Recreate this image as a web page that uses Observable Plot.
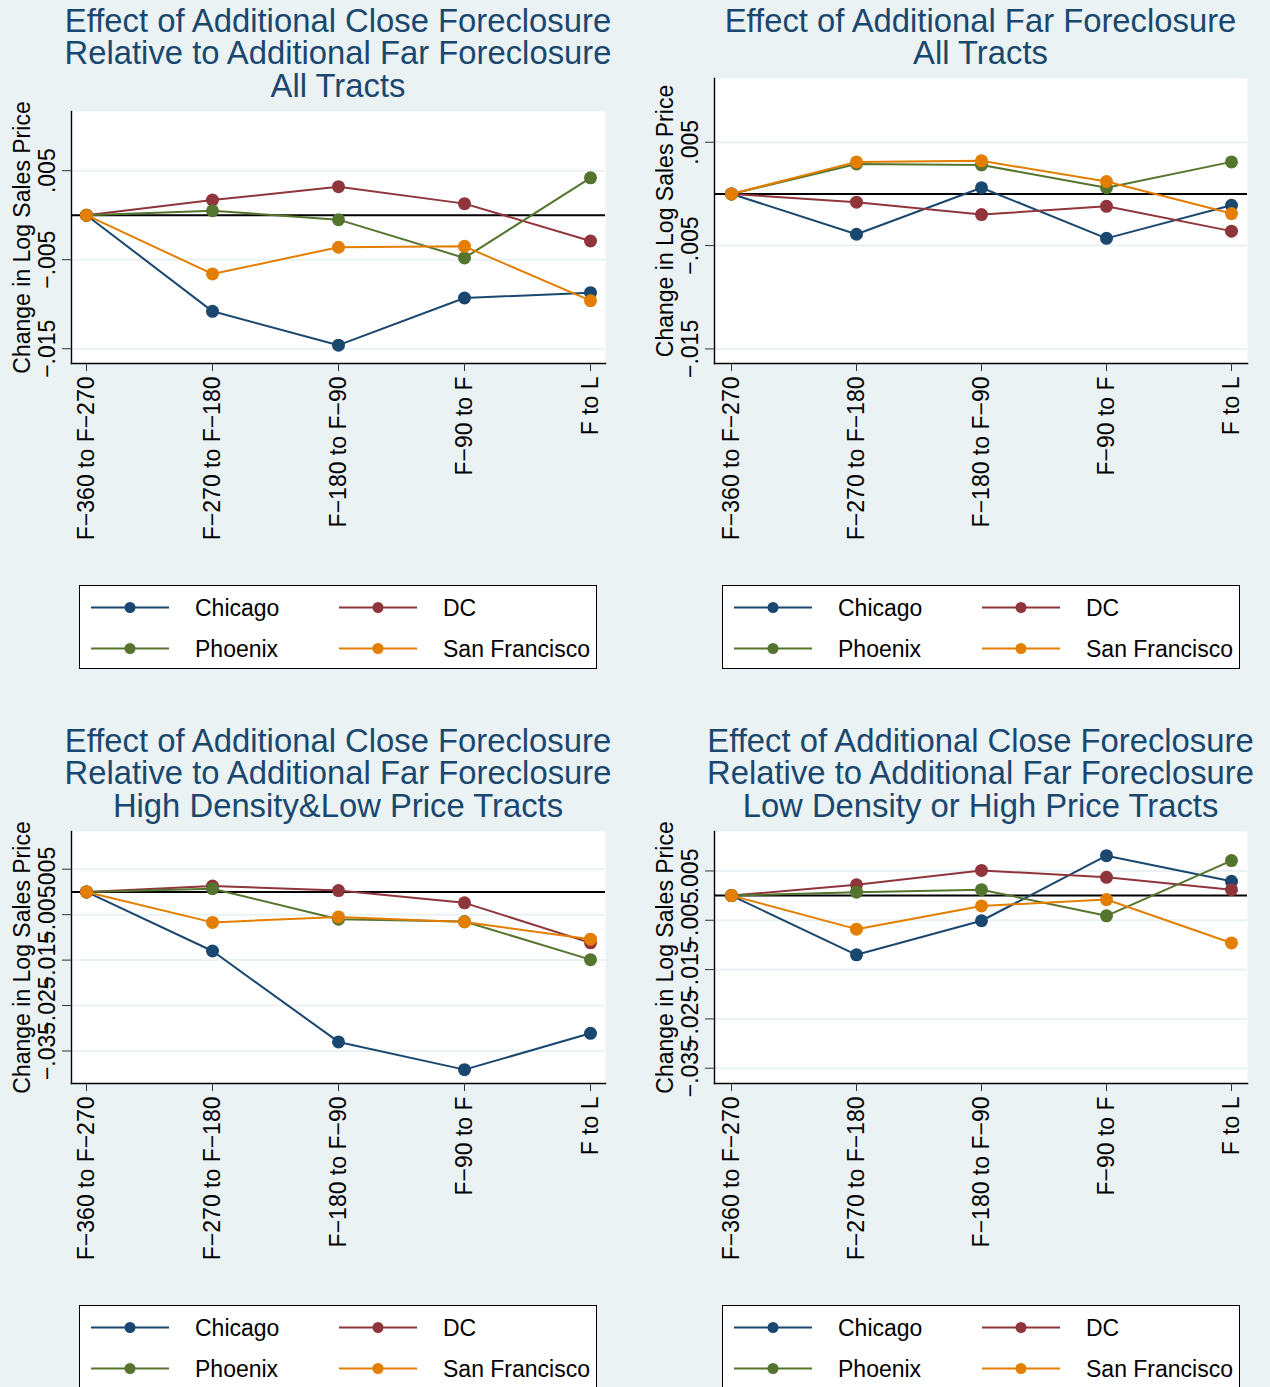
<!DOCTYPE html>
<html>
<head>
<meta charset="utf-8">
<script src="https://cdn.jsdelivr.net/npm/d3@7"></script>
<script src="https://cdn.jsdelivr.net/npm/@observablehq/plot@0.6"></script>
<style>
  html, body { margin: 0; padding: 0; background: #eaf2f3; }
  #root { position: relative; width: 1270px; height: 1387px; overflow: hidden; background: #eaf2f3;
          font-family: "Liberation Sans", Arial, Helvetica, sans-serif; }
  .title { position: absolute; width: 800px; color: #1a476f; font-size: 32.8px; line-height: 32.5px;
           text-align: center; white-space: nowrap; }
  .legend { position: absolute; background: #fff; border: 1px solid #000; box-sizing: border-box; }
  .legend svg { position: absolute; left: 0; top: 0; }
  .plotbox { position: absolute; }
</style>
</head>
<body>
<div id="root"></div>
<script>
// ---------- data ----------
const periods = ["F−360 to F−270", "F−270 to F−180", "F−180 to F−90", "F−90 to F", "F to L"];
const cities = ["Chicago", "DC", "Phoenix", "San Francisco"];
const cityColors = ["#1a476f", "#90353b", "#55752f", "#e37e00"];
const yTitle = "Change in Log Sales Price";

// Panel 1: Close relative to Far, All Tracts
const p1Chicago = [0, -0.0108, -0.0146, -0.0093, -0.0087];
const p1DC      = [0,  0.0017,  0.0032,  0.0013, -0.0029];
const p1Phoenix = [0,  0.0005, -0.0005, -0.0048,  0.0042];
const p1SF      = [0, -0.0066, -0.0036, -0.0035, -0.0096];

// Panel 2: Far, All Tracts
const p2Chicago = [0, -0.0039,  0.0006, -0.0043, -0.0011];
const p2DC      = [0, -0.0008, -0.0020, -0.0012, -0.0036];
const p2Phoenix = [0,  0.0029,  0.0028,  0.0006,  0.0031];
const p2SF      = [0,  0.0031,  0.0032,  0.0012, -0.0019];

// Panel 3: Close relative to Far, High Density & Low Price
const p3Chicago = [0, -0.0130, -0.0330, -0.0391, -0.0311];
const p3DC      = [0,  0.0013,  0.0003, -0.0024, -0.0112];
const p3Phoenix = [0,  0.0007, -0.0060, -0.0065, -0.0149];
const p3SF      = [0, -0.0067, -0.0055, -0.0066, -0.0104];

// Panel 4: Close relative to Far, Low Density or High Price
const p4Chicago = [0, -0.0120, -0.0051,  0.0081,  0.0029];
const p4DC      = [0,  0.0022,  0.0051,  0.0037,  0.0012];
const p4Phoenix = [0,  0.0007,  0.0012, -0.0041,  0.0071];
const p4SF      = [0, -0.0068, -0.0021, -0.0008, -0.0096];

const ticksSmall = [-0.015, -0.005, 0.005];
const ticksLarge = [-0.035, -0.025, -0.015, -0.005, 0.005];

const titles1 = ["Effect of Additional Close Foreclosure", "Relative to Additional Far Foreclosure", "All Tracts"];
const titles2 = ["Effect of Additional Far Foreclosure", "All Tracts"];
const titles3 = ["Effect of Additional Close Foreclosure", "Relative to Additional Far Foreclosure", "High Density&Low Price Tracts"];
const titles4 = ["Effect of Additional Close Foreclosure", "Relative to Additional Far Foreclosure", "Low Density or High Price Tracts"];

// ---------- layout ----------
const panels = [
  {titles: titles1, series: [p1Chicago, p1DC, p1Phoenix, p1SF], yDomain: [-0.01666, 0.01165], yTicks: ticksSmall,
   left: 71, right: 605, top: 111, bottom: 363, titleTop: 4.5, legendTop: 585},
  {titles: titles2, series: [p2Chicago, p2DC, p2Phoenix, p2SF], yDomain: [-0.01641, 0.01117], yTicks: ticksSmall,
   left: 714, right: 1247, top: 78, bottom: 363, titleTop: 4.5, legendTop: 585},
  {titles: titles3, series: [p3Chicago, p3DC, p3Phoenix, p3SF], yDomain: [-0.04215, 0.0133], yTicks: ticksLarge,
   left: 71, right: 605, top: 831, bottom: 1083, titleTop: 724.5, legendTop: 1305},
  {titles: titles4, series: [p4Chicago, p4DC, p4Phoenix, p4SF], yDomain: [-0.0381, 0.0130], yTicks: ticksLarge,
   left: 714, right: 1247, top: 831, bottom: 1083, titleTop: 724.5, legendTop: 1305}
];

const fmt = d => (d < 0 ? "−" : "") + d3.format(".3f")(Math.abs(d)).replace(/^0/, "");
const root = document.getElementById("root");

for (const p of panels) {
  const ml = 71, mt = 10, mr = 10, mb = 200;
  const fw = p.right - p.left, fh = p.bottom - p.top;
  const seriesMarks = [];
  cities.forEach((c, i) => {
    const rows = periods.map((per, j) => ({city: c, period: per, value: p.series[i][j]}));
    seriesMarks.push(Plot.line(rows, {x: "period", y: "value", stroke: cityColors[i], strokeWidth: 2}));
    seriesMarks.push(Plot.dot(rows, {x: "period", y: "value", fill: cityColors[i], stroke: "none", r: 6.5}));
  });
  const chart = Plot.plot({
    width: ml + fw + mr,
    height: mt + fh + mb,
    marginLeft: ml, marginRight: mr, marginTop: mt, marginBottom: mb,
    style: {background: "transparent", fontFamily: "'Liberation Sans', Arial, sans-serif", fontSize: "23px", color: "#000", overflow: "visible"},
    x: {type: "point", domain: periods, padding: 0, insetLeft: 15, insetRight: 15, label: null},
    y: {domain: p.yDomain, label: null},
    marks: [
      Plot.frame({fill: "white", stroke: null}),
      Plot.gridY(p.yTicks, {stroke: "#eaf2f3", strokeOpacity: 1, strokeWidth: 2}),
      Plot.ruleY([0], {stroke: "#000", strokeWidth: 2}),
      Plot.frame({anchor: "left", stroke: "#000", strokeWidth: 1.4}),
      Plot.frame({anchor: "bottom", stroke: "#000", strokeWidth: 1.4}),
      Plot.axisY({ticks: p.yTicks, tickFormat: fmt, tickRotate: -90, tickSize: 9, tickPadding: 8, label: null, stroke: "#333"}),
      Plot.axisX({tickRotate: -90, tickSize: 8, tickPadding: 5, label: null, stroke: "#333"}),
      Plot.text([yTitle], {frameAnchor: "left", textAnchor: "middle", lineAnchor: "middle", rotate: -90, dx: -49, fontSize: 23, fill: "#000"}),
      ...seriesMarks
    ]
  });
  const box = document.createElement("div");
  box.className = "plotbox";
  box.style.left = (p.left - ml) + "px";
  box.style.top = (p.top - mt) + "px";
  box.appendChild(chart);
  root.appendChild(box);

  // title
  const t = document.createElement("div");
  t.className = "title";
  const cx = (p.left + p.right) / 2;
  t.style.left = (cx - 400) + "px";
  t.style.top = p.titleTop + "px";
  t.innerHTML = p.titles.map(s => s.replace(/&/g, "&amp;")).join("<br>");
  root.appendChild(t);

  // legend
  const lg = document.createElement("div");
  lg.className = "legend";
  const lx = p.left + 8;
  lg.style.left = lx + "px";
  lg.style.top = p.legendTop + "px";
  lg.style.width = "518px";
  lg.style.height = "84px";
  const ns = "http://www.w3.org/2000/svg";
  const svg = document.createElementNS(ns, "svg");
  svg.setAttribute("width", 518); svg.setAttribute("height", 84);
  const cols = [11, 259];
  cities.forEach((c, i) => {
    const col = i % 2, row = Math.floor(i / 2);
    const x0 = cols[col], y0 = row === 0 ? 21.5 : 62.5;
    const ln = document.createElementNS(ns, "line");
    ln.setAttribute("x1", x0); ln.setAttribute("x2", x0 + 78);
    ln.setAttribute("y1", y0); ln.setAttribute("y2", y0);
    ln.setAttribute("stroke", cityColors[i]); ln.setAttribute("stroke-width", 2);
    svg.appendChild(ln);
    const ci = document.createElementNS(ns, "circle");
    ci.setAttribute("cx", x0 + 39); ci.setAttribute("cy", y0); ci.setAttribute("r", 5.5);
    ci.setAttribute("fill", cityColors[i]);
    svg.appendChild(ci);
    const tx = document.createElementNS(ns, "text");
    tx.setAttribute("x", x0 + 104); tx.setAttribute("y", y0 + 8);
    tx.setAttribute("font-size", 23);
    tx.setAttribute("font-family", "'Liberation Sans', Arial, sans-serif");
    tx.setAttribute("fill", "#000");
    tx.textContent = c;
    svg.appendChild(tx);
  });
  lg.appendChild(svg);
  root.appendChild(lg);
}
</script>
</body>
</html>
